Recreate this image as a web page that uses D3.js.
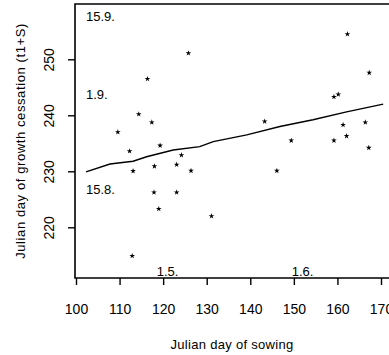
<!DOCTYPE html>
<html>
<head>
<meta charset="utf-8">
<script src="https://cdn.jsdelivr.net/npm/d3@7"></script>
<style>
  body { margin: 0; background: #fff; }
  svg { display: block; font-family: "Liberation Sans", Arial, sans-serif; }
</style>
</head>
<body>
<div class="chart"></div>
<script>
// sowing day (x) vs growth cessation day (y)
const sowDay = [109.6, 112.3, 112.9, 113.1, 114.4, 116.4, 117.4, 117.9, 118.0, 119.0,
  119.3, 123.1, 123.1, 124.2, 125.8, 126.4, 131.1, 143.3, 146.1, 149.4,
  159.2, 160.2, 159.2, 161.3, 162.1, 162.3, 166.4, 167.2, 167.3];
const cessDay = [237.0, 233.6, 214.9, 230.05, 240.2, 246.5, 238.75, 226.25, 230.9, 223.3,
  234.6, 231.2, 226.25, 232.9, 251.1, 230.1, 222.0, 238.9, 230.1, 235.5,
  243.3, 243.75, 235.5, 238.3, 236.3, 254.5, 238.75, 234.2, 247.6];

// smoothed trend
const trendX = [102.3, 107.8, 113.1, 116.2, 122.3, 128.4, 131.5, 139.2, 146.8, 154.4, 162.1, 170.5];
const trendY = [229.9, 231.3, 231.8, 232.6, 233.8, 234.4, 235.3, 236.5, 238.0, 239.2, 240.6, 242.0];

const xTicks = [100, 110, 120, 130, 140, 150, 160, 170];
const yTicks = [220, 230, 240, 250];

// calendar date markers (day.month.)
const yDateLabels = ['15.9.', '1.9.', '15.8.'];
const yDateDays = [258, 244, 227];
const xDateLabels = ['1.5.', '1.6.'];
const xDateDays = [121, 152];

const width = 389, height = 355;
const frameLeft = 75, frameTop = 4, frameBottom = 278;

const svg = d3.select('.chart').append('svg')
  .attr('width', width)
  .attr('height', height);

const x = d3.scaleLinear().domain([100, 170]).range([76, 381]);
const y = d3.scaleLinear().domain([220, 250]).range([227.3, 59.3]);

// frame
svg.append('path')
  .attr('d', `M${width},${frameTop}H${frameLeft}V${frameBottom}H${width}`)
  .attr('fill', 'none')
  .attr('stroke', '#000')
  .attr('stroke-width', 1.6);

// x axis
const xAxis = svg.append('g')
  .attr('transform', `translate(0,${frameBottom})`)
  .call(d3.axisBottom(x).tickValues(xTicks).tickSize(7).tickPadding(19));
xAxis.select('.domain').remove();
xAxis.selectAll('line').attr('stroke-width', 1.4);
xAxis.selectAll('text')
  .attr('font-size', 14)
  .attr('font-family', '"Liberation Sans", Arial, sans-serif')
  .attr('fill', '#000');

// y axis with rotated labels
const yAxis = svg.append('g')
  .attr('transform', `translate(${frameLeft},0)`)
  .call(d3.axisLeft(y).tickValues(yTicks).tickSize(7).tickPadding(0));
yAxis.select('.domain').remove();
yAxis.selectAll('line').attr('stroke-width', 1.4);
yAxis.selectAll('text')
  .attr('x', null).attr('dy', null)
  .attr('transform', 'translate(-21,0) rotate(-90)')
  .attr('text-anchor', 'middle')
  .attr('font-size', 14)
  .attr('font-family', '"Liberation Sans", Arial, sans-serif')
  .attr('fill', '#000');

// axis titles
svg.append('text')
  .attr('x', 232).attr('y', 349)
  .attr('text-anchor', 'middle')
  .attr('font-size', 13)
  .attr('letter-spacing', 0.3)
  .text('Julian day of sowing');

svg.append('text')
  .attr('transform', 'translate(25,141) rotate(-90)')
  .attr('text-anchor', 'middle')
  .attr('font-size', 13)
  .attr('letter-spacing', 0.6)
  .text('Julian day of growth cessation (t1+S)');

// date markers
svg.append('g').selectAll('text')
  .data(yDateLabels)
  .join('text')
  .attr('x', 86)
  .attr('y', (d, i) => y(yDateDays[i]) + 6)
  .attr('font-size', 13)
  .text(d => d);

svg.append('g').selectAll('text')
  .data(xDateLabels)
  .join('text')
  .attr('x', (d, i) => x(xDateDays[i]))
  .attr('y', frameBottom - 2)
  .attr('text-anchor', 'middle')
  .attr('font-size', 13)
  .text(d => d);

// trend line
const line = d3.line()
  .x(d => x(d[0]))
  .y(d => y(d[1]));

svg.append('path')
  .datum(trendX.map((v, i) => [v, trendY[i]]))
  .attr('d', line)
  .attr('fill', 'none')
  .attr('stroke', '#000')
  .attr('stroke-width', 1.4);

// points
const star = d3.symbol().type(d3.symbolStar).size(10);
svg.append('g').selectAll('path')
  .data(sowDay.map((v, i) => ({x: v, y: cessDay[i]})))
  .join('path')
  .attr('d', star)
  .attr('transform', d => `translate(${x(d.x)},${y(d.y)})`)
  .attr('fill', '#000');
</script>
</body>
</html>
